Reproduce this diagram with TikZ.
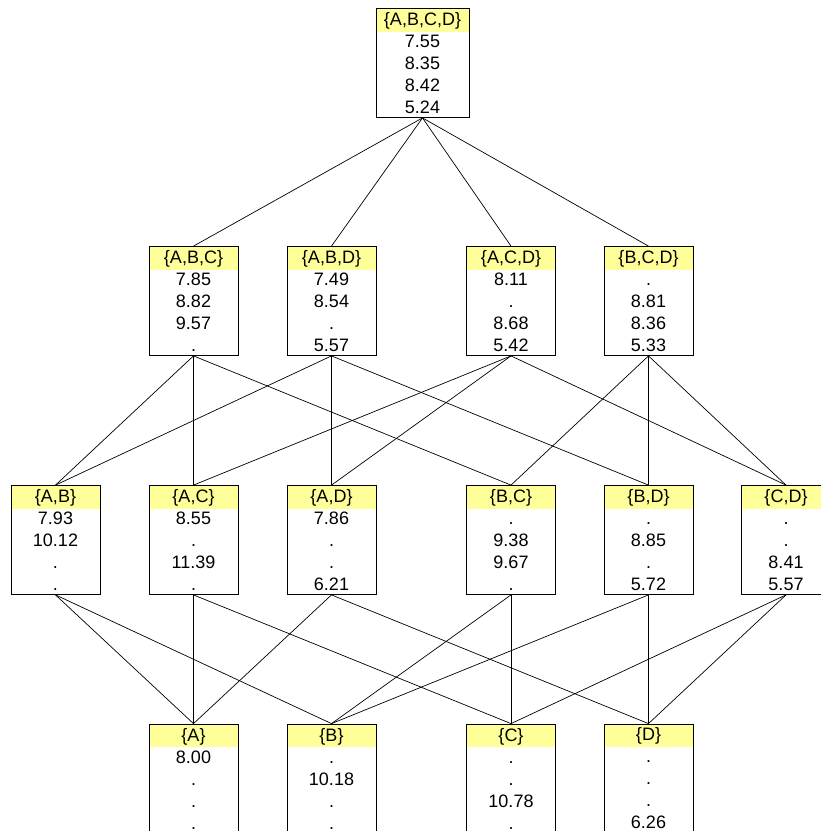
\documentclass[tikz,border=0pt]{standalone}
\usepackage{fontspec}
\setmainfont{Liberation Sans}
\usepackage{tikz}

\definecolor{headyellow}{RGB}{255,255,153}

\begin{document}
\begin{tikzpicture}[x=1pt,y=-1pt,
    setbox/.style={draw,line width=0.8pt,minimum width=89pt,minimum height=109pt,
      inner sep=0pt,align=center,font=\fontsize{18}{22}\selectfont,
      path picture={\fill[headyellow] (path picture bounding box.north west)
        rectangle ([yshift=-23pt]path picture bounding box.north east);}},
    link/.style={line width=0.7pt}]
      \useasboundingbox (0,0) rectangle (821,831);

      \node[setbox,minimum width=93pt] (abcd) at (422.5,63) {\{A,B,C,D\}\\7.55\\8.35\\8.42\\5.24};

      \node[setbox] (abc) at (193.5,301) {\{A,B,C\}\\7.85\\8.82\\9.57\\.};
      \node[setbox] (abd) at (331.5,301) {\{A,B,D\}\\7.49\\8.54\\.\\5.57};
      \node[setbox] (acd) at (511,301)   {\{A,C,D\}\\8.11\\.\\8.68\\5.42};
      \node[setbox] (bcd) at (648.5,301) {\{B,C,D\}\\.\\8.81\\8.36\\5.33};

      \node[setbox] (ab) at (55.5,540)  {\{A,B\}\\7.93\\10.12\\.\\.};
      \node[setbox] (ac) at (193.5,540) {\{A,C\}\\8.55\\.\\11.39\\.};
      \node[setbox] (ad) at (331.5,540) {\{A,D\}\\7.86\\.\\.\\6.21};
      \node[setbox] (bc) at (511,540)   {\{B,C\}\\.\\9.38\\9.67\\.};
      \node[setbox] (bd) at (648.5,540) {\{B,D\}\\.\\8.85\\.\\5.72};
      \node[setbox] (cd) at (786,540)   {\{C,D\}\\.\\.\\8.41\\5.57};

      \node[setbox] (a) at (193.5,778.5) {\{A\}\\8.00\\.\\.\\.};
      \node[setbox] (b) at (331.5,778.5) {\{B\}\\.\\10.18\\.\\.};
      \node[setbox] (c) at (511,778.5)   {\{C\}\\.\\.\\10.78\\.};
      \node[setbox] (d) at (648.5,778.5) {\{D\}\\.\\.\\.\\6.26};

      % top to triples
      \foreach \n in {abc,abd,acd,bcd}
        \draw[link] (abcd.south) -- (\n.north);

      % triples to pairs
      \draw[link] (abc.south) -- (ab.north);
      \draw[link] (abc.south) -- (ac.north);
      \draw[link] (abc.south) -- (bc.north);
      \draw[link] (abd.south) -- (ab.north);
      \draw[link] (abd.south) -- (ad.north);
      \draw[link] (abd.south) -- (bd.north);
      \draw[link] (acd.south) -- (ac.north);
      \draw[link] (acd.south) -- (ad.north);
      \draw[link] (acd.south) -- (cd.north);
      \draw[link] (bcd.south) -- (bc.north);
      \draw[link] (bcd.south) -- (bd.north);
      \draw[link] (bcd.south) -- (cd.north);

      % pairs to singletons
      \draw[link] (ab.south) -- (a.north);
      \draw[link] (ab.south) -- (b.north);
      \draw[link] (ac.south) -- (a.north);
      \draw[link] (ac.south) -- (c.north);
      \draw[link] (ad.south) -- (a.north);
      \draw[link] (ad.south) -- (d.north);
      \draw[link] (bc.south) -- (b.north);
      \draw[link] (bc.south) -- (c.north);
      \draw[link] (bd.south) -- (b.north);
      \draw[link] (bd.south) -- (d.north);
      \draw[link] (cd.south) -- (c.north);
      \draw[link] (cd.south) -- (d.north);
    \end{tikzpicture}
\end{document}
